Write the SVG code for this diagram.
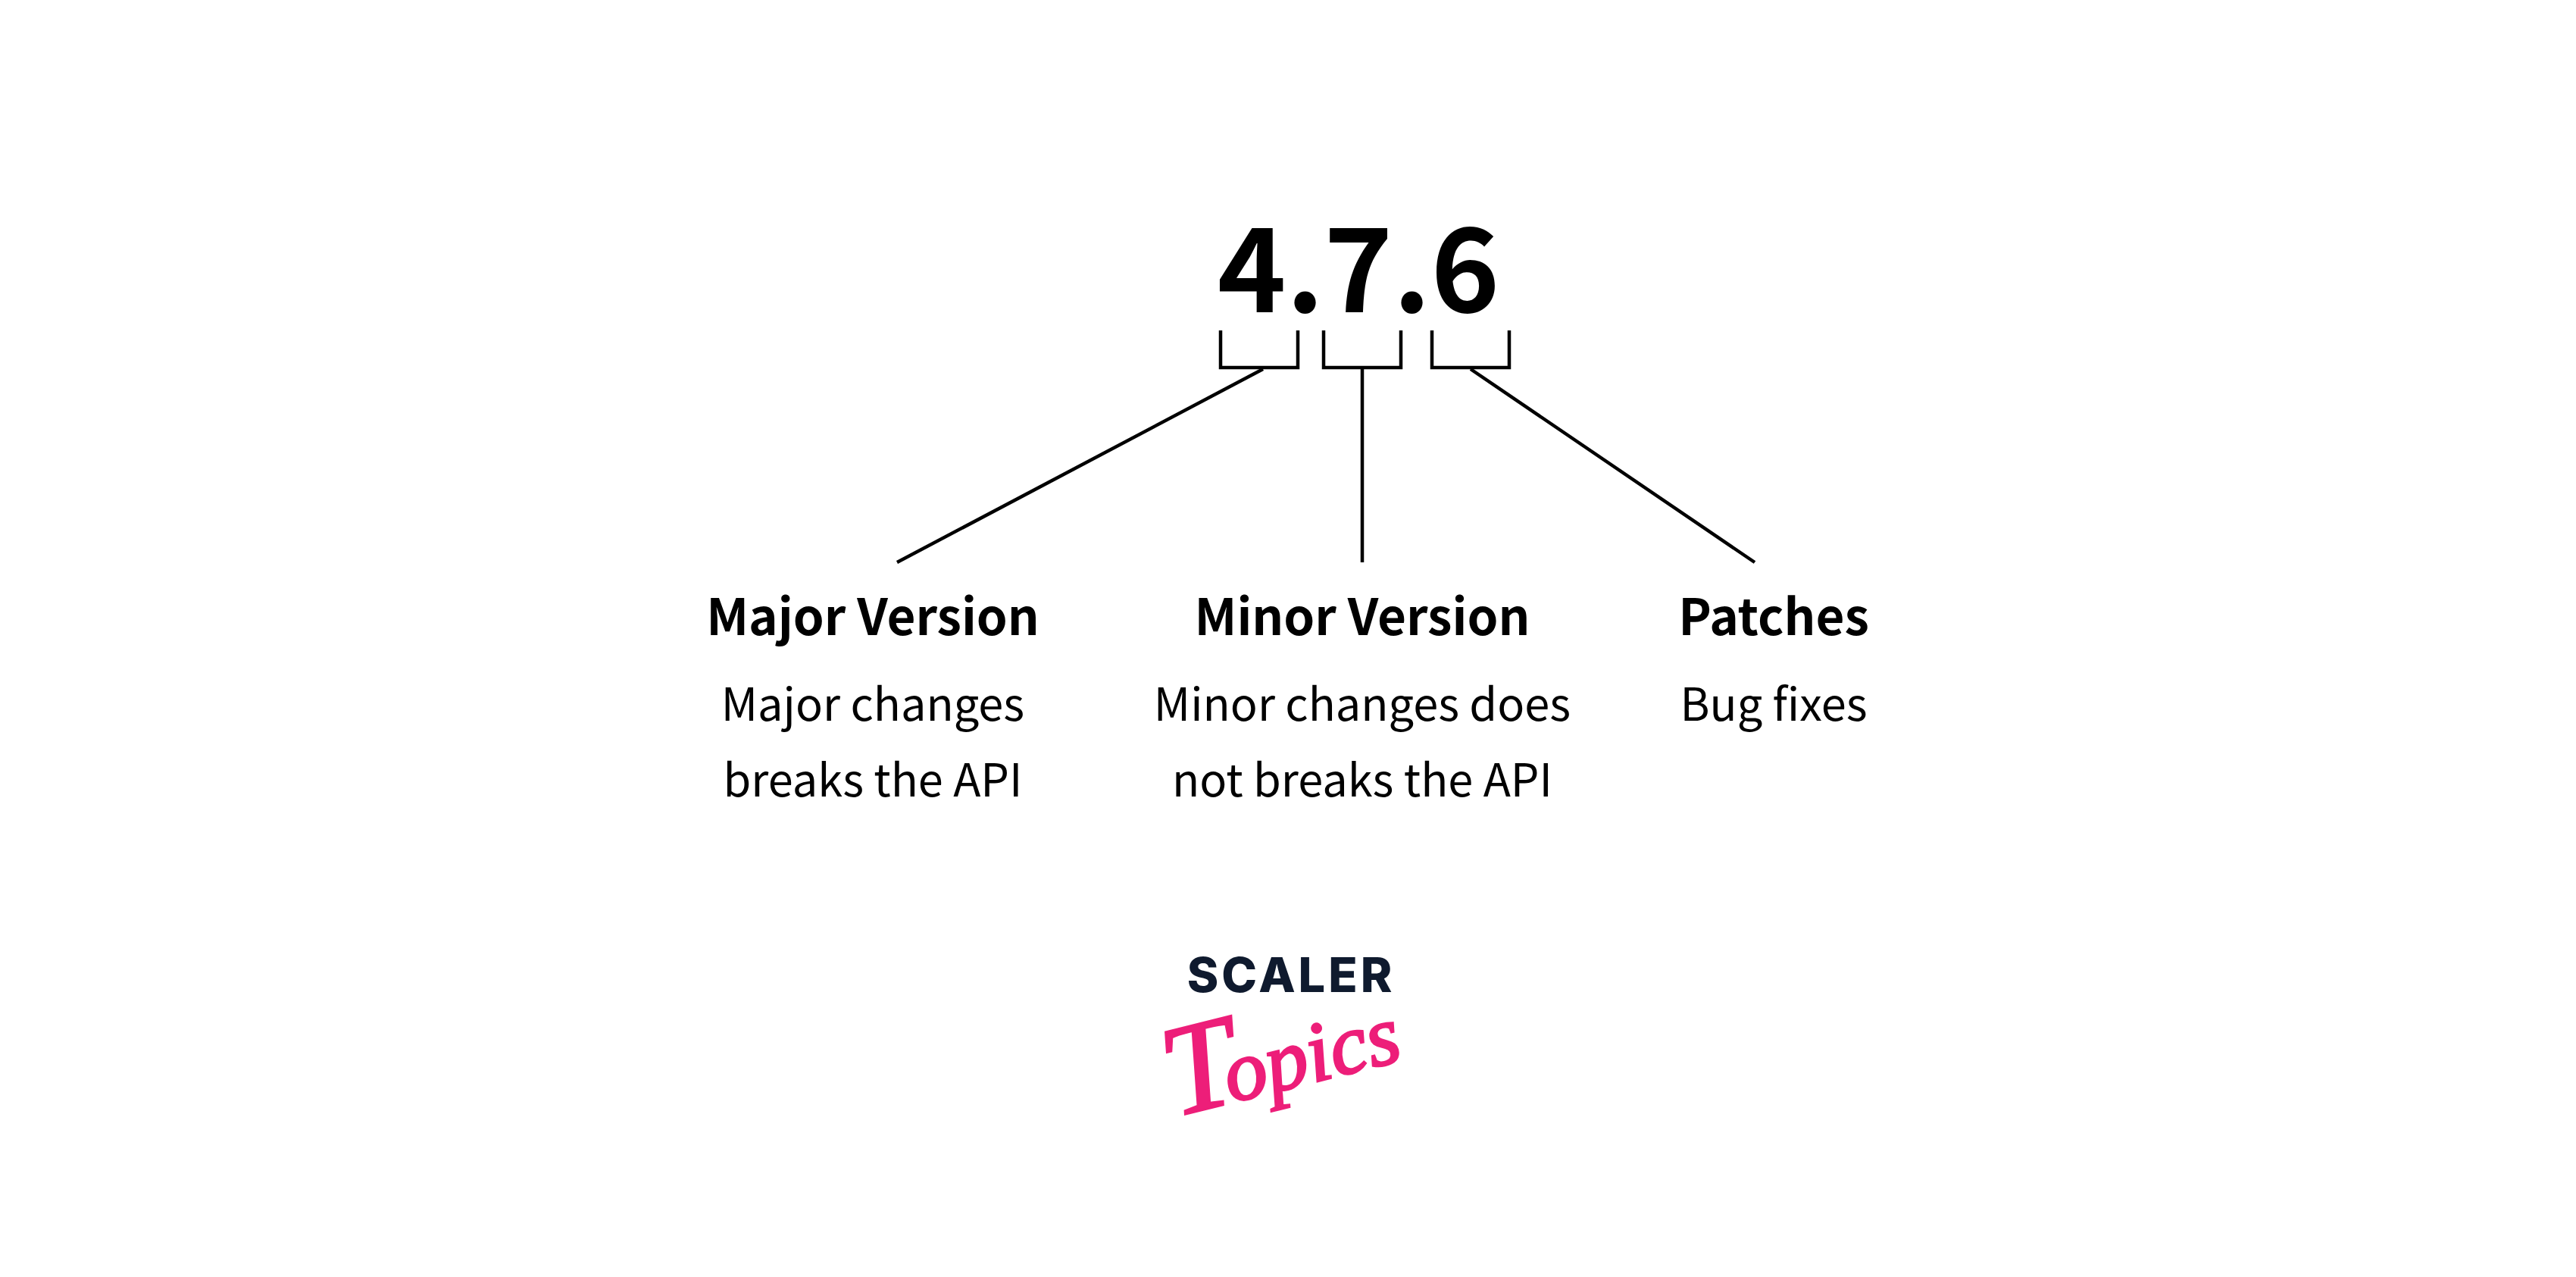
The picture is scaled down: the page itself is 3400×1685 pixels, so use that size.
<svg xmlns="http://www.w3.org/2000/svg" width="3400" height="1685" viewBox="0 0 3400 1685">
<style>
text{font-family:"Noto Sans CJK SC","Noto Sans",sans-serif;fill:#000;text-anchor:middle}
.v{font-size:154px;font-weight:700}
.h{font-size:65.5px;font-weight:700}
.b{font-size:59.5px;font-weight:400}
.c{fill:none;stroke:#000;stroke-width:4.5}
.s{font-family:"Inter","Noto Sans",sans-serif;font-size:63px;font-weight:800;fill:#0f1a2e;letter-spacing:4px}
.t{font-family:"Liberation Serif",serif;font-style:italic;font-weight:400;font-size:112px;fill:#ed1e79;stroke:#ed1e79;stroke-width:3}
</style>
<rect width="3400" height="1685" fill="#fff"/>
<g id="version"><text class="v" x="1793" y="412">4.7.6</text></g>
<g id="connectors">
<path class="c" d="M1611 436V485H1713V436"/>
<path class="c" d="M1747 436V485H1849V436"/>
<path class="c" d="M1890 436V485H1992V436"/>
<path class="c" d="M1667 487L1184 742"/>
<path class="c" d="M1798 487V742"/>
<path class="c" d="M1941 487L2316 742"/>
</g>
<g id="major"><text class="h" x="1152" y="838">Major Version</text><text class="b" x="1152" y="951">Major changes</text><text class="b" x="1152" y="1051">breaks the API</text></g>
<g id="minor"><text class="h" x="1798" y="838">Minor Version</text><text class="b" x="1798" y="951">Minor changes does</text><text class="b" x="1798" y="1051">not breaks the API</text></g>
<g id="patches"><text class="h" x="2341" y="838">Patches</text><text class="b" x="2341" y="951">Bug fixes</text></g>
<g id="logo"><text class="s" x="1704" y="1309">SCALER</text><text class="t" x="1702" y="1436" transform="rotate(-14 1702 1436)"><tspan font-size="170">T</tspan><tspan dx="-18">opics</tspan></text></g>
</svg>
